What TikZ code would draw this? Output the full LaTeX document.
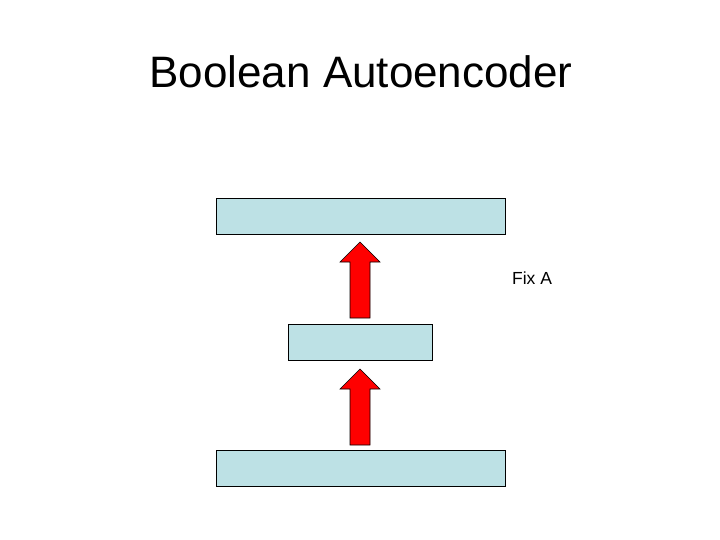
\documentclass[tikz,border=0pt]{standalone}
\usepackage{fontspec}
\setmainfont{Liberation Sans}
\begin{document}
\begin{tikzpicture}[x=1pt,y=-1pt,
  layer/.style={draw=black,fill={rgb,255:red,189;green,225;blue,229},line width=0.8pt},
  uparrow/.style={draw=black,fill=red,line width=0.6pt}]
\useasboundingbox (0,0) rectangle (720,540);
\node[font=\fontsize{44}{46}\selectfont] (title) at (361,72) {Boolean Autoencoder};
\path[layer] (216,198) rectangle (505,234) coordinate (topbox);
\path[layer] (288,324) rectangle (432,360) coordinate (midbox);
\path[layer] (216,450) rectangle (505,486) coordinate (botbox);
\path[uparrow] (350,318) -- (350,262) -- (340,262) -- (360,242) -- (380,262) -- (370,262) -- (370,318) -- cycle;
\path[uparrow] (350,445) -- (350,389) -- (340,389) -- (360,369) -- (380,389) -- (370,389) -- (370,445) -- cycle;
\node[font=\fontsize{17.5}{19}\selectfont] (fix) at (532,278) {Fix A};
\end{tikzpicture}
\end{document}
